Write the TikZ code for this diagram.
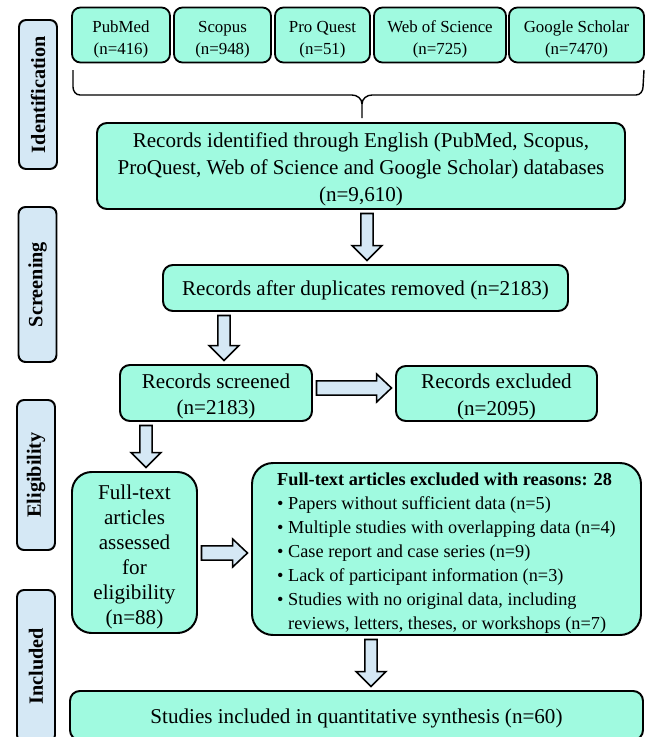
\documentclass[tikz,border=0pt]{standalone}
\usepackage{fontspec}
\setmainfont{Liberation Serif}
\usetikzlibrary{calc}
\definecolor{boxgreen}{HTML}{A0FAE0}
\definecolor{lblue}{HTML}{D5E8F5}
\def\pxu{0.025cm}
\newcommand{\topgap}[1]{\rule{0pt}{#1}}
% block arrows: x (or y), from, to
\def\argap{2.5pt}
\newcommand{\arrdown}[3]{%
  \draw[bigarrow] let \p1=(#1,0), \p2=(#2), \p3=(#3) in
    (\x1-4.3pt,\y2-\argap) -- (\x1+4.3pt,\y2-\argap) -- (\x1+4.3pt,\y3+\argap+10.6pt)
    -- (\x1+10.6pt,\y3+\argap+10.6pt) -- (\x1,\y3+\argap) -- (\x1-10.6pt,\y3+\argap+10.6pt)
    -- (\x1-4.3pt,\y3+\argap+10.6pt) -- cycle;}
\newcommand{\arrright}[3]{%
  \draw[bigarrow] let \p1=(0,#1), \p2=(#2), \p3=(#3) in
    (\x2+\argap,\y1-5pt) -- (\x3-\argap-10.6pt,\y1-5pt) -- (\x3-\argap-10.6pt,\y1-10pt)
    -- (\x3-\argap,\y1) -- (\x3-\argap-10.6pt,\y1+10pt) -- (\x3-\argap-10.6pt,\y1+5pt)
    -- (\x2+\argap,\y1+5pt) -- cycle;}
\begin{document}
\begin{tikzpicture}[x=0.025cm, y=-0.025cm,
  dbbox/.style={draw, line width=1.3pt, fill=boxgreen, rounded corners=6pt,
    align=center, inner sep=0pt, minimum height=55*\pxu,
    font=\fontsize{12}{15.5}\selectfont},
  flowbox/.style={draw, line width=1.4pt, fill=boxgreen, rounded corners=7pt,
    align=center, inner sep=0pt, font=\fontsize{15}{19}\selectfont},
  phase/.style={draw, line width=1.4pt, fill=lblue, rounded corners=5pt,
    rotate=90, inner sep=0pt, minimum height=38*\pxu,
    font=\fontsize{14.4}{16}\selectfont\bfseries},
  bigarrow/.style={draw, line width=1.1pt, fill=lblue, line join=miter},
  brace/.style={line width=1pt}]

\useasboundingbox (0,0) rectangle (646,737);

% phases
\node[phase, minimum width=149*\pxu] (pid) at (38,94.5) {Identification};
\node[phase, minimum width=155*\pxu] (pscr) at (37.5,284.5) {Screening};
\node[phase, minimum width=150*\pxu] (pelig) at (36,475) {Eligibility};
\node[phase, minimum width=152*\pxu] (pinc) at (36,666) {Included};

% databases
\node[dbbox, minimum width=98*\pxu] (pubmed) at (121,35) {\topgap{14.6pt}PubMed\\(n=416)};
\node[dbbox, minimum width=97*\pxu] (scopus) at (222.5,35) {\topgap{14.6pt}Scopus\\(n=948)};
\node[dbbox, minimum width=95*\pxu] (proquest) at (322.5,35) {\topgap{14.6pt}Pro Quest\\(n=51)};
\node[dbbox, minimum width=132*\pxu] (wos) at (440,35) {\topgap{14.6pt}Web of Science\\(n=725)};
\node[dbbox, minimum width=135*\pxu] (gscholar) at (576.5,35) {\topgap{14.6pt}Google Scholar\\(n=7470)};

% flow boxes
\node[flowbox, minimum width=528*\pxu, minimum height=86*\pxu] (rid) at (361,166)
  {\topgap{15.2pt}Records identified through English (PubMed, Scopus,\\ProQuest, Web of Science and Google Scholar) databases\\(n=9,610)};
\node[flowbox, minimum width=405*\pxu, minimum height=46*\pxu] (rdup) at (365.5,288)
  {\topgap{14.5pt}Records after duplicates removed (n=2183)};
\node[flowbox, minimum width=192*\pxu, minimum height=56*\pxu] (rscr) at (216,393)
  {\topgap{15.2pt}Records screened\\(n=2183)};
\node[flowbox, minimum width=201*\pxu, minimum height=55*\pxu] (rexc) at (496.5,393.5)
  {\topgap{15.2pt}Records excluded\\(n=2095)};
\node[flowbox, rounded corners=14pt, minimum width=125*\pxu, minimum height=161*\pxu,
  font=\fontsize{15}{17.7}\selectfont] (ftx) at (134.5,552.5)
  {\topgap{16.6pt}Full-text\\articles\\assessed\\for\\eligibility\\(n=88)};
\node[flowbox, rounded corners=15pt, align=left, minimum width=389*\pxu, minimum height=172*\pxu,
  font=\fontsize{13}{17}\selectfont] (frsn) at (446.5,549)
  {\topgap{14.6pt}\textbf{Full-text articles excluded with reasons: 28}\\
   \textbullet\ Papers without sufficient data (n=5)\\
   \textbullet\ Multiple studies with overlapping data (n=4)\\
   \textbullet\ Case report and case series (n=9)\\
   \textbullet\ Lack of participant information (n=3)\\
   \textbullet\ Studies with no original data, including\\
   \phantom{\textbullet\ }reviews, letters, theses, or workshops (n=7)};
\node[flowbox, minimum width=573*\pxu, minimum height=49*\pxu] (incl) at (356.5,715.5)
  {\topgap{14.5pt}Studies included in quantitative synthesis (n=60)};

% brace
\draw[brace] (73,70) -- (73,87) to[out=-90,in=180] (80,95) -- (352,95)
  to[out=0,in=90] (362,104) -- ($(rid.north)+(1,-4)$);
\draw[brace] (362,104) to[out=90,in=180] (372,95) -- (636,95)
  to[out=0,in=-90] (643,87) -- (644,70);

% arrows
\arrdown{367}{rid.south}{rdup.north}
\arrdown{224}{rdup.south}{rscr.north}
\arrdown{146}{rscr.south}{ftx.north}
\arrdown{371}{frsn.south}{incl.north}
\arrright{388}{rscr.east}{rexc.west}
\arrright{553}{ftx.east}{frsn.west}
\end{tikzpicture}
\end{document}
